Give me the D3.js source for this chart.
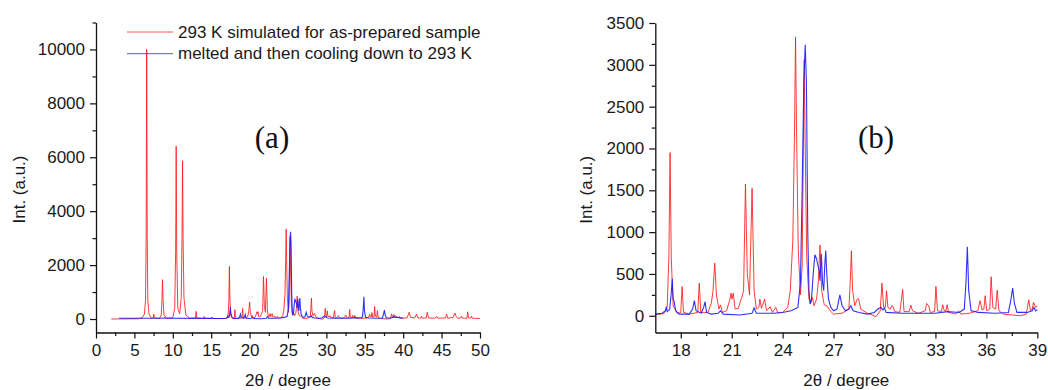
<!DOCTYPE html>
<html>
<head>
<meta charset="utf-8">
<script src="https://cdn.jsdelivr.net/npm/d3@7"></script>
<style>
  html, body { margin: 0; padding: 0; background: #fff; }
  svg { display: block; }
</style>
</head>
<body>
<div id="chart"></div>
<script>
// XRD patterns, [2theta, intensity]
const simulatedPattern = [
  [2.0, 0], [5.5, 10], [6.0, 40], [6.3, 180], [6.45, 700], [6.53, 3000], [6.6, 10000], [6.67, 3000],
  [6.75, 700], [6.9, 180], [7.2, 40], [7.45, 50], [7.52, 185], [7.6, 40], [8.3, 30], [8.5, 150],
  [8.6, 800], [8.66, 1460], [8.72, 800], [8.85, 150], [9.2, 30], [10.0, 50], [10.25, 400], [10.37, 2500],
  [10.44, 6410], [10.51, 2500], [10.65, 400], [10.9, 200], [11.1, 800], [11.2, 3000], [11.27, 5870],
  [11.34, 3000], [11.45, 800], [11.7, 150], [12.2, 30], [12.95, 40], [13.04, 285], [13.12, 40],
  [14.0, 20], [14.09, 90], [14.2, 20], [15.0, 20], [15.09, 60], [15.2, 20], [16.5, 15], [17.0, 25],
  [17.2, 100], [17.3, 700], [17.37, 1950], [17.44, 700], [17.55, 120], [17.8, 30], [18.0, 40],
  [18.08, 350], [18.16, 40], [18.5, 20], [19.0, 40], [19.09, 390], [19.18, 40], [19.6, 40], [19.8, 150],
  [19.9, 300], [20.0, 630], [20.1, 250], [20.25, 80], [20.34, 130], [20.45, 40], [20.7, 60], [20.9, 200],
  [20.96, 270], [21.02, 200], [21.09, 270], [21.2, 80], [21.4, 90], [21.55, 200], [21.6, 220], [21.7, 300],
  [21.81, 1576], [21.92, 500], [22.05, 250], [22.2, 1524], [22.32, 300], [22.45, 80], [22.6, 100],
  [22.66, 200], [22.75, 90], [22.94, 200], [23.05, 60], [23.27, 108], [23.4, 40], [23.6, 100], [23.7, 40],
  [24.0, 40], [24.3, 100], [24.45, 300], [24.6, 900], [24.7, 2200], [24.76, 3330], [24.82, 2200],
  [24.92, 800], [25.05, 250], [25.15, 600], [25.22, 2000], [25.27, 3060], [25.33, 2000], [25.42, 700],
  [25.55, 200], [25.65, 150], [25.75, 220], [25.85, 120], [26.0, 200], [26.1, 400], [26.2, 846],
  [26.3, 300], [26.45, 130], [26.6, 120], [26.8, 60], [27.0, 20], [27.5, 30], [27.9, 80], [27.98, 400],
  [28.05, 778], [28.12, 300], [28.25, 120], [28.4, 200], [28.47, 207], [28.6, 80], [29.0, 30], [29.5, -10],
  [29.75, 60], [29.85, 391], [29.95, 100], [30.05, 100], [30.12, 300], [30.2, 100], [30.35, 80],
  [30.42, 120], [30.5, 110], [30.6, 50], [30.9, 40], [31.07, 315], [31.15, 50], [31.45, 50], [31.55, 128],
  [31.65, 60], [32.0, 30], [32.4, 60], [32.48, 148], [32.6, 120], [32.7, 40], [32.95, 50], [33.03, 351],
  [33.12, 60], [33.35, 50], [33.43, 132], [33.52, 60], [33.62, 60], [33.69, 132], [33.78, 40], [34.2, 20],
  [34.36, 60], [34.5, 20], [35.0, 30], [35.5, 60], [35.63, 180], [35.75, 70], [35.85, 80], [35.93, 240],
  [36.02, 60], [36.2, 80], [36.28, 467], [36.38, 100], [36.55, 80], [36.64, 307], [36.74, 60], [37.0, 20],
  [38.0, 0], [38.35, 20], [38.5, 190], [38.6, 60], [38.7, 80], [38.78, 160], [38.9, 100], [39.0, 120],
  [39.3, 40], [39.5, 100], [39.6, 30], [40.5, 40], [40.78, 250], [40.95, 60], [41.5, 40], [41.74, 185],
  [41.9, 40], [42.3, 40], [42.4, 100], [42.5, 30], [43.0, 40], [43.13, 250], [43.3, 40], [44.2, 30],
  [44.35, 100], [44.5, 30], [45.5, 40], [45.65, 185], [45.8, 30], [46.5, 60], [46.74, 220], [46.9, 100],
  [47.1, 30], [47.5, 40], [47.6, 100], [47.7, 30], [48.3, 30], [48.4, 270], [48.5, 40], [48.8, 40],
  [48.9, 100], [49.0, 30], [50.0, 20]
];

const meltedPattern = [
  [3.0, 30], [8.8, 30], [8.9, 50], [9.0, 30], [15.0, 25], [15.1, 50], [15.2, 25], [16.5, 20], [16.9, 30],
  [17.1, 60], [17.15, 108], [17.2, 50], [17.35, 80], [17.45, 300], [17.5, 443], [17.55, 200], [17.6, 180],
  [17.7, 60], [17.9, 20], [18.5, 20], [18.7, 80], [18.8, 180], [18.9, 60], [19.2, 30], [19.35, 100],
  [19.43, 168], [19.52, 40], [19.8, 20], [20.2, 30], [20.34, 60], [20.5, 20], [21.5, 10], [22.2, 30],
  [22.32, 92], [22.45, 30], [23.5, 30], [24.0, 40], [24.5, 60], [24.9, 100], [25.05, 400], [25.15, 1500],
  [25.25, 2800], [25.33, 3240], [25.4, 2800], [25.48, 1000], [25.55, 300], [25.62, 140], [25.7, 200],
  [25.8, 500], [25.9, 730], [26.0, 680], [26.08, 600], [26.15, 550], [26.2, 420], [26.28, 740],
  [26.35, 400], [26.42, 300], [26.48, 600], [26.54, 780], [26.6, 500], [26.7, 200], [26.84, 100],
  [27.0, 60], [27.2, 80], [27.37, 250], [27.5, 120], [27.7, 60], [27.9, 80], [28.02, 120], [28.15, 60],
  [28.5, 40], [29.0, 20], [29.4, 40], [29.6, 80], [29.8, 100], [29.9, 70], [30.0, 90], [30.1, 40],
  [31.0, 30], [32.0, 30], [33.0, 30], [33.7, 50], [34.4, 40], [34.7, 80], [34.8, 400], [34.88, 826],
  [34.96, 300], [35.1, 60], [35.3, 50], [35.5, 40], [36.5, 30], [37.3, 40], [37.45, 200], [37.55, 330],
  [37.65, 150], [37.8, 40], [38.4, 40], [38.7, 60], [38.8, 100], [38.9, 60], [39.0, 70], [40.0, 30]
];

const legendLabels = ['293 K simulated for as-prepared sample', 'melted and then cooling down to 293 K'];

const xTicksA = d3.range(0, 51, 5);
const xMinorA = d3.range(2.5, 50, 5);
const yTicksA = [0, 2000, 4000, 6000, 8000, 10000];
const yMinorA = [1000, 3000, 5000, 7000, 9000, 11000];

const xTicksB = [18, 21, 24, 27, 30, 33, 36, 39];
const xMinorB = [19.5, 22.5, 25.5, 28.5, 31.5, 34.5, 37.5];
const yTicksB = [0, 500, 1000, 1500, 2000, 2500, 3000, 3500];
const yMinorB = [250, 750, 1250, 1750, 2250, 2750, 3250];

const width = 1048;
const height = 390;
const RED = '#ff1a1a';
const BLUE = '#1a1aff';
const FONT = "'Liberation Sans', Arial, sans-serif";

const svg = d3.select('#chart').append('svg')
  .attr('width', width)
  .attr('height', height);

const panels = [
  {
    id: 'a', left: 96, right: 480, top: 22.5, bottom: 332.5,
    xDomain: [0, 50], yDomain: [-500, 11000],
    xTicks: xTicksA, xMinor: xMinorA, yTicks: yTicksA, yMinor: yMinorA,
    tag: '(a)', tagX: 272, tagY: 148, yTitleX: 25
  },
  {
    id: 'b', left: 655.3, right: 1037.3, top: 23, bottom: 332.5,
    xDomain: [16.5, 39], yDomain: [-200, 3500],
    xTicks: xTicksB, xMinor: xMinorB, yTicks: yTicksB, yMinor: yMinorB,
    tag: '(b)', tagX: 876, tagY: 148, yTitleX: 592
  }
];

panels.forEach(p => {
  const x = d3.scaleLinear().domain(p.xDomain).range([p.left, p.right]);
  const y = d3.scaleLinear().domain(p.yDomain).range([p.bottom, p.top]);
  const g = svg.append('g').attr('class', `panel-${p.id}`);

  g.append('clipPath').attr('id', `clip-${p.id}`)
    .append('rect')
    .attr('x', p.left).attr('y', p.top)
    .attr('width', p.right - p.left).attr('height', p.bottom - p.top);

  const line = d3.line().x(d => x(d[0])).y(d => y(d[1]));

  const plot = g.append('g').attr('clip-path', `url(#clip-${p.id})`);
  plot.append('path').datum(simulatedPattern)
    .attr('d', line).attr('fill', 'none')
    .attr('stroke', RED).attr('stroke-width', 1).attr('stroke-opacity', 0.85);
  plot.append('path').datum(meltedPattern)
    .attr('d', line).attr('fill', 'none')
    .attr('stroke', BLUE).attr('stroke-width', 1.1).attr('stroke-opacity', 0.9);

  // minor ticks first, then major axes on top
  g.append('g').attr('transform', `translate(0,${p.bottom})`)
    .call(d3.axisBottom(x).tickValues(p.xMinor).tickSize(3.5).tickFormat(''))
    .call(s => s.select('.domain').remove());
  g.append('g').attr('transform', `translate(${p.left},0)`)
    .call(d3.axisLeft(y).tickValues(p.yMinor).tickSize(3.5).tickFormat(''))
    .call(s => s.select('.domain').remove());

  const xAxis = g.append('g').attr('transform', `translate(0,${p.bottom})`)
    .call(d3.axisBottom(x).tickValues(p.xTicks).tickSize(6).tickSizeOuter(0).tickPadding(5).tickFormat(d3.format('d')));
  const yAxis = g.append('g').attr('transform', `translate(${p.left},0)`)
    .call(d3.axisLeft(y).tickValues(p.yTicks).tickSize(6).tickSizeOuter(0).tickPadding(5).tickFormat(d3.format('d')));

  [xAxis, yAxis].forEach(ax => {
    ax.selectAll('.domain').attr('stroke', '#111').attr('stroke-width', 1.3);
    ax.selectAll('line').attr('stroke', '#111').attr('stroke-width', 1.2);
    ax.selectAll('text').attr('font-family', FONT).attr('font-size', 17).attr('fill', '#1a1a1a');
  });
  g.selectAll('.tick line').attr('stroke', '#111').attr('stroke-width', 1.2);

  g.append('text')
    .attr('x', (p.left + p.right) / 2).attr('y', 386)
    .attr('text-anchor', 'middle')
    .attr('font-family', FONT).attr('font-size', 17).attr('fill', '#1a1a1a')
    .text('2θ / degree');

  g.append('text')
    .attr('transform', `translate(${p.yTitleX},${(p.top + p.bottom) / 2 + 12}) rotate(-90)`)
    .attr('text-anchor', 'middle')
    .attr('font-family', FONT).attr('font-size', 17).attr('fill', '#1a1a1a')
    .text('Int. (a.u.)');

  g.append('text')
    .attr('x', p.tagX).attr('y', p.tagY)
    .attr('text-anchor', 'middle')
    .attr('font-family', "'Liberation Serif', 'Times New Roman', serif")
    .attr('font-size', 31).attr('fill', '#111')
    .text(p.tag);
});

// legend inside panel (a)
const legend = svg.append('g').attr('class', 'legend');
legendLabels.forEach((label, i) => {
  const ly = 32 + i * 21.7;
  legend.append('line')
    .attr('x1', 127).attr('x2', 173).attr('y1', ly).attr('y2', ly)
    .attr('stroke', i === 0 ? RED : BLUE).attr('stroke-width', 1).attr('stroke-opacity', 0.75);
  legend.append('text')
    .attr('x', 178).attr('y', ly + 5.5)
    .attr('font-family', FONT).attr('font-size', 17).attr('fill', '#1a1a1a')
    .text(label);
});
</script>
</body>
</html>
